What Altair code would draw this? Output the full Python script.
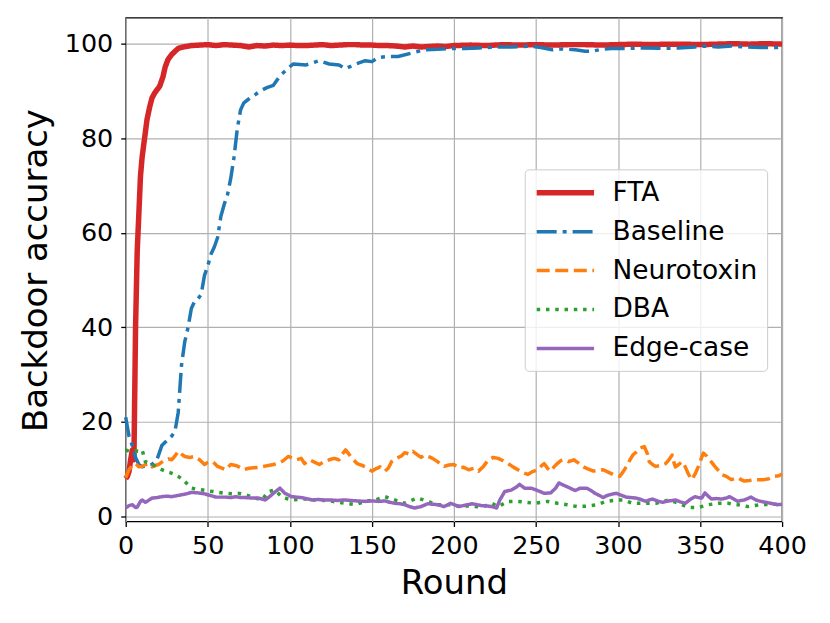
import altair as alt
import pandas as pd

methods = ["FTA", "Baseline", "Neurotoxin", "DBA", "Edge-case"]
colors = ["#d62728", "#1f77b4", "#ff7f0e", "#2ca02c", "#9467bd"]
dashes = [[1, 0], [20, 6, 4, 6], [13, 5.6], [3.5, 5.8], [1, 0]]
widths = [5.5, 3.5, 3.5, 3.5, 3.5]

fta_x = [0, 1, 2, 3, 4, 5, 6, 7, 8, 9, 10, 11.5, 13, 14.6, 16, 17.7, 20.7, 22.7, 24, 25.7, 28, 29.8, 32, 35,
         40, 45, 50, 55, 60, 65, 70, 75, 80, 85, 90, 95, 100, 105, 110, 115, 120, 125, 130, 135, 140, 145,
         150, 155, 160, 165, 170, 175, 180, 185, 190, 195, 200, 210, 220, 230, 240, 250, 260, 270, 280, 290,
         300, 310, 320, 330, 340, 350, 360, 370, 380, 390, 400]
fta_y = [8, 8.5, 9.5, 12, 14, 12, 40, 56, 64, 72, 76, 80, 84, 86.6, 88.5, 89.6, 91, 93, 95, 96.6, 97.7, 98.3, 99, 99.3,
         99.6, 99.7, 99.8, 99.6, 99.8, 99.7, 99.6, 99.3, 99.6, 99.5, 99.7, 99.6, 99.7, 99.6, 99.6, 99.7, 99.8, 99.6,
         99.7, 99.8, 99.8, 99.7, 99.7, 99.6, 99.6, 99.5, 99.3, 99.5, 99.3, 99.4, 99.5, 99.4, 99.6, 99.7, 99.6, 99.8,
         99.7, 99.8, 99.7, 99.8, 99.8, 99.7, 99.8, 99.9, 99.8, 99.9, 99.9, 99.8, 99.9, 100, 99.9, 100, 99.9]

base_x = [0, 2, 4, 6, 8, 10, 13, 16, 19, 22, 25, 28, 30, 32, 34, 36, 38, 40, 42, 44, 46, 48, 50, 52, 54, 56, 58,
          60, 62, 64, 66, 68, 70, 72, 75, 78, 82, 86, 90, 94, 98, 102, 110, 118, 124, 130, 134, 140, 146, 150,
          154, 160, 166, 174, 182, 190, 198, 207, 215, 225, 235, 247, 253, 260, 266, 274, 280, 284, 290, 296,
          306, 316, 327, 337, 347, 353, 361, 369, 377, 387, 397, 400]
base_y = [21, 17, 15, 12.5, 11, 10.5, 10.8, 11, 12, 15, 16, 17, 18, 22, 32, 37, 40, 44, 45.5, 46, 47, 51, 53, 55.5,
          57, 59, 63.5, 66, 68, 71.5, 76, 82, 86, 87.5, 88.3, 89, 90, 90.7, 91.2, 93.2, 94.5, 95.7, 95.5, 96.4,
          95.7, 95.5, 94.7, 95.7, 96.4, 96.2, 97.1, 97.3, 97.3, 98, 98.7, 98.8, 99, 99, 99.1, 99.3, 99.3, 99.5,
          99.2, 98.7, 98.9, 98.7, 98.4, 98.4, 98.8, 99, 99, 99.1, 99, 99.1, 99.3, 99.5, 99.3, 99.5, 99.3, 99.2,
          99.2, 99.3]

neuro_x = [0, 2, 4, 6, 8, 10, 12, 14, 16, 18, 20, 22, 24, 26, 28, 30, 32, 34, 36, 39, 42, 45, 48, 50, 53, 56, 59,
           61, 64, 67, 69, 72, 75, 78, 81, 84, 87, 90, 93, 96, 99, 102, 104, 107, 109, 112, 115, 118, 121, 124,
           127, 130, 132, 134, 136, 138, 141, 144, 146, 150, 153, 155, 158, 160, 162, 165, 168, 170, 173, 175,
           178, 180, 182, 185, 187, 190, 194, 197, 200, 203, 206, 209, 212, 215, 218, 221, 224, 227, 230, 233,
           236, 239, 242, 245, 248, 251, 253, 255, 257, 259, 261, 263, 265, 267, 270, 273, 276, 279, 282, 285,
           288, 291, 294, 297, 299, 301, 303, 305, 307, 309, 311, 313, 316, 318, 319, 321, 323, 326, 329, 331,
           333, 334, 335, 337, 339, 341, 343, 345, 347, 349, 351, 352, 354, 355, 357, 359, 361, 363, 366, 369,
           371, 373, 375, 377, 380, 383, 386, 389, 392, 395, 398, 400]
neuro_y = [8.2, 9.9, 10.8, 11.2, 10.5, 10.6, 11, 11.2, 10.5, 10.8, 11, 11.5, 12, 12.2, 12, 12.8, 13.8, 13.2, 12.7,
           12.5, 12.7, 12, 11, 11.4, 11.6, 10.6, 10.2, 9.9, 11, 10.8, 10.5, 9.9, 10.2, 10.3, 10.4, 10.6, 10.8, 11,
           11.3, 11.8, 12.7, 12.3, 12, 12.3, 11.2, 12, 11.5, 11, 11.6, 12, 12.3, 12, 13.2, 14.1, 13.2, 12.3, 11.2,
           10.8, 10.5, 9.6, 10.2, 10.5, 9.6, 10.2, 11.6, 12.3, 12.8, 13.5, 13.2, 13.8, 13, 12.5, 13, 12.6, 12.3,
           11.6, 10.6, 10.9, 11, 10.3, 10.4, 9.9, 10.2, 9.6, 10.6, 12, 12.5, 12.3, 11.8, 11.2, 10.5, 9.9, 9.3, 8.9,
           9.5, 9.9, 10.6, 11.2, 10.2, 9.6, 10.5, 11.2, 11.8, 12, 11.6, 12, 11.3, 10.5, 10, 9.6, 9.8, 9.9, 9.4,
           8.9, 8.6, 8.5, 9.4, 10.5, 11.8, 13, 13.6, 14.4, 14.8, 13.2, 11.6, 11, 10.6, 10.8, 11.2, 12, 13, 11.5,
           10.5, 11, 11.6, 10.5, 8.9, 7.8, 9, 10.6, 12.5, 13.4, 12.8, 12.3, 11.5, 10.6, 9.8, 8.9, 8.5, 7.8, 8,
           8.2, 7.8, 7.5, 7.6, 7.8, 7.8, 7.8, 8, 8.5, 8.6, 9]

dba_x = [0, 2, 4, 6, 8, 10, 12, 14, 16, 19, 22, 25, 27, 30, 32, 34, 36, 38, 40, 43, 47, 50, 53, 57, 61, 65, 69,
         73, 76, 79, 83, 87, 91, 95, 98, 101, 105, 109, 113, 117, 121, 126, 130, 134, 140, 146, 152, 158, 164,
         170, 174, 178, 184, 190, 195, 198, 203, 209, 217, 223, 227, 233, 239, 244, 249, 253, 257, 263, 269,
         275, 281, 287, 293, 299, 303, 309, 315, 323, 331, 337, 343, 349, 355, 361, 367, 373, 379, 387, 395, 400]
dba_y = [14.1, 13.8, 13.8, 13.9, 13.8, 14.1, 11.6, 11.3, 11, 10.5, 9.9, 9.5, 9.3, 8.9, 8.5, 8, 7.4, 6.7, 6, 5.8,
         5.6, 5.4, 5.3, 5.1, 4.9, 4.8, 4.9, 4.6, 4.2, 3.9, 3.5, 5.3, 5.6, 4.2, 3.8, 3.5, 3.6, 3.7, 3.5, 3.5, 3.4,
         3.2, 3.0, 2.8, 2.5, 3.2, 3.5, 4.2, 3.5, 2.8, 3.4, 3.9, 3.2, 2.5, 2.5, 2.5, 2.2, 2.2, 2.0, 2.8, 2.1, 3.2,
         3.2, 3.0, 2.8, 3.0, 3.2, 2.8, 2.5, 2.1, 2.2, 2.5, 3.2, 3.5, 3.5, 2.8, 2.8, 2.8, 3.5, 2.8, 1.9, 1.9, 2.5,
         2.8, 2.8, 2.5, 2.1, 2.5, 2.6, 2.6]

edge_x = [0, 2, 4, 6, 7, 9, 10, 12, 13, 16, 19, 22, 25, 28, 31, 34, 37, 40, 44, 48, 51, 55, 58, 61, 64, 67, 70,
          73, 77, 81, 85, 88, 91, 94, 97, 99, 101, 104, 107, 110, 113.5, 117, 121, 125, 129, 133, 137, 141, 146,
          150, 154, 158, 161, 164, 167, 170, 173, 176, 180, 184, 187, 190, 194, 198, 203, 207, 211, 214, 217, 221,
          223, 226, 228, 231, 235, 238, 240, 243, 247, 251, 255, 259, 262, 264, 267, 269, 272, 274, 277, 281, 284,
          286, 289, 291, 293, 295, 297, 299, 302, 305, 308, 311, 314, 317, 319, 321, 324, 327, 331, 335, 338, 341,
          344, 347, 349, 351, 353, 355, 357, 360, 363, 366, 368, 370, 373, 375, 377, 379, 381, 384, 387, 390, 393,
          397, 400]
edge_y = [1.8, 2.3, 2.5, 1.9, 2.0, 3.2, 3.5, 3.0, 3.2, 3.9, 4.0, 4.2, 4.3, 4.2, 4.4, 4.6, 4.8, 5.1, 5.0, 4.8, 4.5,
          4.1, 4.1, 4.1, 4.0, 4.2, 4.0, 4.0, 3.9, 3.9, 3.5, 4.3, 5.2, 6.0, 4.9, 4.6, 4.2, 4.1, 4.0, 3.8, 3.5, 3.6,
          3.5, 3.5, 3.4, 3.5, 3.4, 3.3, 3.2, 3.3, 3.2, 3.3, 3.0, 2.8, 2.7, 2.5, 2.1, 1.8, 2.1, 2.7, 2.6, 2.5, 2.1,
          2.8, 2.1, 2.4, 2.7, 2.5, 2.3, 2.2, 2.1, 1.8, 3.5, 5.3, 5.6, 6.2, 6.8, 6.0, 6.0, 5.5, 4.9, 5.0, 6.0, 7.1,
          6.6, 6.3, 5.8, 5.5, 6.0, 6.0, 5.4, 4.9, 4.4, 4.0, 4.4, 4.6, 4.8, 4.9, 4.5, 4.1, 4.0, 3.9, 3.6, 3.2, 3.5,
          3.7, 3.3, 3.0, 3.3, 3.5, 3.1, 2.8, 3.6, 4.2, 4.0, 3.9, 5.0, 4.3, 3.7, 3.8, 3.7, 3.9, 4.2, 3.8, 3.2, 3.4,
          3.5, 3.8, 4.1, 3.5, 3.2, 3.0, 2.8, 2.5, 2.6]

x_ticks = [0, 50, 100, 150, 200, 250, 300, 350, 400]
y_ticks = [0, 20, 40, 60, 80, 100]

series = [(fta_x, fta_y), (base_x, base_y), (neuro_x, neuro_y), (dba_x, dba_y), (edge_x, edge_y)]
frames = []
for name, (xs, ys) in zip(methods, series):
    frames.append(pd.DataFrame({"round": xs, "acc": ys, "method": name}))
df = pd.concat(frames, ignore_index=True)

FONT = "DejaVu Sans"
legend = alt.Legend(
    orient="none", legendX=400, legendY=152, title=None,
    symbolType="M-1,0H4", symbolSize=529, labelFontSize=26.5, labelFont=FONT, labelColor="black",
    padding=9, fillColor="rgba(255,255,255,0.8)", strokeColor="#cccccc", cornerRadius=4,
    labelOffset=50, rowPadding=12,
)

chart = alt.Chart(df).mark_line(strokeJoin="round").encode(
    x=alt.X("round:Q", scale=alt.Scale(domain=[0, 400], nice=False, zero=False),
            axis=alt.Axis(values=x_ticks, title="Round", titleFontSize=34, titleFont=FONT,
                          titleFontWeight="normal", titleColor="black",
                          titleX=329, titleY=72, titleBaseline="alphabetic",
                          labelFontSize=25.5, labelFont=FONT, labelColor="black", labelPadding=7,
                          tickSize=5, tickColor="black", tickWidth=1.3, domain=False,
                          gridColor="#b0b0b0", gridWidth=1.2, labelFlush=False)),
    y=alt.Y("acc:Q", scale=alt.Scale(domain=[-1.05, 105.49], nice=False, zero=False),
            axis=alt.Axis(values=y_ticks, title="Backdoor accuracy", titleFontSize=34, titleFont=FONT,
                          titleFontWeight="normal", titleColor="black",
                          titleX=-79, titleY=253, titleBaseline="alphabetic", titleAngle=-90,
                          labelFontSize=25.5, labelFont=FONT, labelColor="black", labelPadding=8,
                          tickSize=5, tickColor="black", tickWidth=1.3, domain=False,
                          gridColor="#b0b0b0", gridWidth=1.2)),
    color=alt.Color("method:N", scale=alt.Scale(domain=methods, range=colors), legend=legend),
    strokeDash=alt.StrokeDash("method:N", scale=alt.Scale(domain=methods, range=dashes), legend=legend),
    strokeWidth=alt.StrokeWidth("method:N", scale=alt.Scale(type="ordinal", domain=methods, range=widths), legend=legend),
    order=alt.Order("round:Q"),
).properties(
    width=658, height=505,
    padding={"left": 118, "top": 9, "right": 40, "bottom": 90},
    autosize=alt.AutoSizeParams(type="none"),
).configure_view(
    stroke="black", strokeWidth=1.3
)

chart.save("out.html", embed_options={"renderer": "svg", "actions": False})
